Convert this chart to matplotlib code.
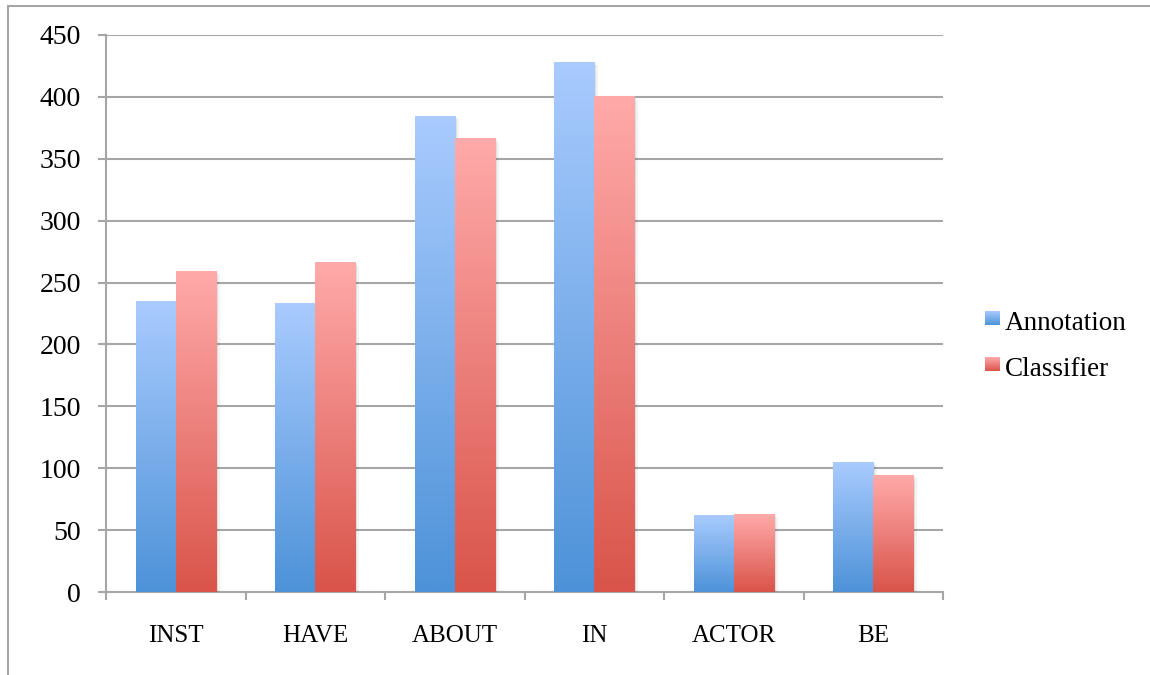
import matplotlib
matplotlib.use("Agg")
import matplotlib.pyplot as plt
import numpy as np
from matplotlib.patches import Rectangle
from matplotlib.colors import LinearSegmentedColormap
import matplotlib.patheffects as pe

categories = ["INST", "HAVE", "ABOUT", "IN", "ACTOR", "BE"]
annotation = [235, 233, 384, 428, 62, 105]
classifier = [259, 266, 366, 400, 63, 94]
series_names = ["Annotation", "Classifier"]
yticks = [0, 50, 100, 150, 200, 250, 300, 350, 400, 450]

plt.rcParams['font.family'] = ['Liberation Serif', 'DejaVu Serif']
W, H = 1150, 675
fig = plt.figure(figsize=(W / 100, H / 100), dpi=100)

ax_l, ax_r, ax_t, ax_b = 106, 943, 35, 592
ax = fig.add_axes([ax_l / W, 1 - ax_b / H, (ax_r - ax_l) / W, (ax_b - ax_t) / H])

gray = "#A6A6A6"
# outer frame
fig.add_artist(Rectangle((8 / W, -0.1), 1.2, 1 - 6 / H + 0.1, transform=fig.transFigure,
                         fill=False, edgecolor=gray, linewidth=1.5))

blue_cmap = LinearSegmentedColormap.from_list("b", ["#4D92D8", "#A9CBFE"])
red_cmap = LinearSegmentedColormap.from_list("r", ["#D9544A", "#FFAAAA"])

x = np.arange(len(categories))
bw = 0.287
grad = np.linspace(0, 1, 256).reshape(-1, 1)

for vals, off, cmap in [(annotation, -bw / 2, blue_cmap), (classifier, bw / 2, red_cmap)]:
    bars = ax.bar(x + off, vals, width=bw, color="white", zorder=3, linewidth=0)
    for b in bars:
        b.set_path_effects([pe.SimplePatchShadow(offset=(1.5, -1), shadow_rgbFace="black", alpha=0.08),
                            pe.SimplePatchShadow(offset=(3, -2), shadow_rgbFace="black", alpha=0.05),
                            pe.Normal()])
        x0, y0, w, h = b.get_x(), b.get_y(), b.get_width(), b.get_height()
        ax.imshow(grad, extent=(x0, x0 + w, y0, y0 + h), origin="lower", cmap=cmap,
                  aspect="auto", zorder=4, interpolation="bilinear")

ax.set_xlim(-0.5, len(categories) - 0.5)
ax.set_ylim(0, 450)
ax.set_yticks(yticks)
ax.set_yticklabels([str(v) for v in yticks])
ax.yaxis.grid(True, color=gray, linewidth=1.5, zorder=0)
ax.set_axisbelow(True)

ax.set_xticks(x)
ax.set_xticklabels(categories)
ax.set_xticks(np.arange(-0.5, len(categories)), minor=True)
ax.tick_params(axis="x", which="major", length=0, pad=24, labelsize=18)
ax.tick_params(axis="x", which="minor", length=6, width=1.5, color=gray, direction="out")
ax.tick_params(axis="y", length=6, width=1.5, color=gray, pad=12, labelsize=20)

for s in ["top", "right"]:
    ax.spines[s].set_visible(False)
for s in ["left", "bottom"]:
    ax.spines[s].set_color(gray)
    ax.spines[s].set_linewidth(1.5)

# legend (gradient squares + text)
for nm, cmap, yc in [(series_names[0], blue_cmap, 320), (series_names[1], red_cmap, 366)]:
    lax = fig.add_axes([985 / W, 1 - (yc + 5) / H, 15 / W, 14 / H])
    lax.imshow(grad, origin="lower", cmap=cmap, aspect="auto", extent=(0, 1, 0, 1))
    lax.axis("off")
    fig.text(1005 / W, 1 - (yc + 4) / H, nm, fontsize=19.5, va="center", ha="left")

fig.savefig("out.png", dpi=100, facecolor="white")
